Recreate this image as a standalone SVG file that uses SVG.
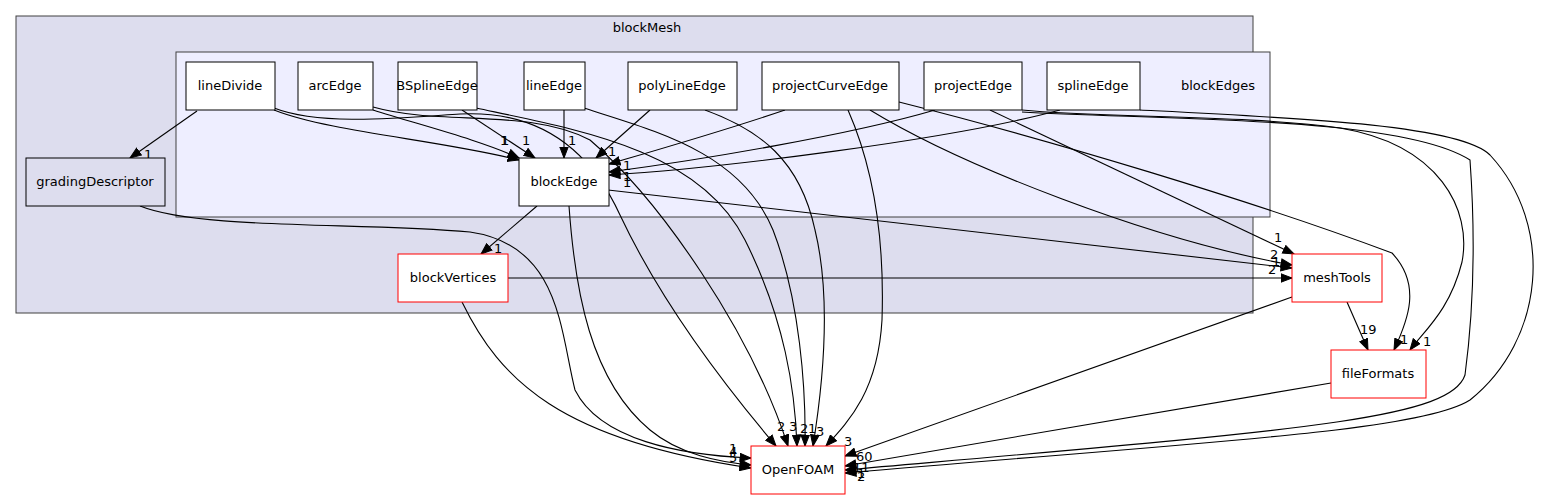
<svg xmlns="http://www.w3.org/2000/svg" width="1543" height="500" viewBox="0 0 1543 500">
<style>
text{font-family:"DejaVu Sans","Liberation Sans",sans-serif;font-size:13px;fill:#000}
.n{text-anchor:middle}
.c1{fill:#ddddee;stroke:#404040;stroke-width:1}
.c2{fill:#eeeeff;stroke:#404040;stroke-width:1}
.w{fill:#ffffff;stroke:#000;stroke-width:1}
.g{fill:#ddddee;stroke:#000;stroke-width:1}
.r{fill:#ffffff;stroke:#ff0000;stroke-width:1}
.e path{fill:none;stroke:#000;stroke-width:1.1;marker-end:url(#a)}
</style>
<defs>
<marker id="a" markerWidth="12" markerHeight="10" refX="11.5" refY="5" orient="auto" markerUnits="userSpaceOnUse"><path d="M0.5,0.8 L11.5,5 L0.5,9.2 z" fill="#000" stroke="#000" stroke-width="1"/></marker>
</defs>
<rect width="1543" height="500" fill="#ffffff"/>
<g id="clust_blockMesh"><rect class="c1" x="16" y="16" width="1237" height="297"/><text class="n" x="647" y="32">blockMesh</text></g>
<g id="clust_blockEdges"><rect class="c2" x="176" y="52" width="1094" height="165"/><text class="n" x="1218" y="90">blockEdges</text></g>

<g id="edges" class="e">
<path d="M197,111 L130,158"/>
<path d="M274,110 C330,132 440,140 519,160"/>
<path d="M373,110 C420,125 480,140 519,158"/>
<path d="M462,110 L535,158"/>
<path d="M564,110 L564,158"/>
<path d="M650,110 L596,158"/>
<path d="M785,110 C720,132 650,152 609,164"/>
<path d="M935,110 C850,135 700,160 609,172"/>
<path d="M1060,110 C950,140 720,168 609,175"/>
<path d="M274,108 C320,126 400,118 460,114 C540,110 590,150 620,215 C660,300 720,380 776,446"/>
<path d="M373,107 C440,126 530,108 590,140 C660,200 750,330 788,446"/>
<path d="M476,108 C580,130 700,150 745,240 C785,320 795,390 797,446"/>
<path d="M584,108 C650,130 740,150 773,230 C800,300 806,390 805,446"/>
<path d="M705,110 C760,130 800,160 815,230 C832,300 822,390 813,446"/>
<path d="M848,110 C870,160 885,230 882,320 C878,390 850,420 826,446"/>
<path d="M870,110 C960,165 1150,240 1292,265"/>
<path d="M899,102 C1050,140 1250,200 1392,253 C1422,285 1408,320 1394,350"/>
<path d="M990,110 L1294,254"/>
<path d="M1022,110 C1100,118 1250,115 1340,128 C1440,145 1472,210 1462,262 C1450,310 1425,330 1410,350"/>
<path d="M1022,112 C1150,120 1400,115 1470,160 C1475,230 1475,300 1465,375 C1450,420 1300,430 845,470"/>
<path d="M1140,110 C1300,118 1460,125 1490,155 C1555,225 1545,340 1470,400 C1420,432 1200,442 845,473"/>
<path d="M608,190 L1292,268"/>
<path d="M508,278 L1292,278"/>
<path d="M537,206 L481,254"/>
<path d="M569,206 C575,290 590,380 650,430 C680,455 720,462 751,465"/>
<path d="M462,302 C500,380 560,440 751,468"/>
<path d="M140,206 C200,230 360,222 470,232 C560,245 560,330 575,390 C600,440 680,455 751,458"/>
<path d="M1347,302 L1368,350"/>
<path d="M1292,297 L845,456"/>
<path d="M1331,383 L845,466"/>
</g>

<g id="edge_labels">
<text x="144" y="159">1</text>
<text x="500" y="145">1</text>
<text x="501" y="145">1</text>
<text x="522" y="145">1</text>
<text x="568" y="145">1</text>
<text x="608" y="156">1</text>
<text x="623" y="170">1</text>
<text x="623" y="181">1</text>
<text x="623" y="187">1</text>
<text x="777" y="431">2</text>
<text x="789" y="431">3</text>
<text x="800" y="433">2</text>
<text x="808" y="433">1</text>
<text x="816" y="436">3</text>
<text x="844" y="446">3</text>
<text x="729" y="453">1</text>
<text x="729" y="456">4</text>
<text x="729" y="462">5</text>
<text x="856" y="461">60</text>
<text x="853" y="472">11</text>
<text x="857" y="478">1</text>
<text x="857" y="481">2</text>
<text x="1274" y="242">1</text>
<text x="1270" y="259">2</text>
<text x="1272" y="266">1</text>
<text x="1268" y="274">2</text>
<text x="494" y="253">1</text>
<text x="1360" y="334">19</text>
<text x="1400" y="344">1</text>
<text x="1423" y="346">1</text>
</g>

<g id="node_lineDivide"><rect class="w" x="186" y="62" width="89" height="48"/><text class="n" x="230" y="90">lineDivide</text></g>
<g id="node_arcEdge"><rect class="w" x="298" y="62" width="75" height="48"/><text class="n" x="335" y="90">arcEdge</text></g>
<g id="node_BSplineEdge"><rect class="w" x="398" y="62" width="79" height="48"/><text class="n" x="437" y="90">BSplineEdge</text></g>
<g id="node_lineEdge"><rect class="w" x="524" y="62" width="61" height="48"/><text class="n" x="554" y="90">lineEdge</text></g>
<g id="node_polyLineEdge"><rect class="w" x="628" y="62" width="109" height="48"/><text class="n" x="682" y="90">polyLineEdge</text></g>
<g id="node_projectCurveEdge"><rect class="w" x="762" y="62" width="137" height="48"/><text class="n" x="830" y="90">projectCurveEdge</text></g>
<g id="node_projectEdge"><rect class="w" x="924" y="62" width="98" height="48"/><text class="n" x="973" y="90">projectEdge</text></g>
<g id="node_splineEdge"><rect class="w" x="1047" y="62" width="93" height="48"/><text class="n" x="1093" y="90">splineEdge</text></g>
<g id="node_blockEdge"><rect class="w" x="519" y="158" width="90" height="48"/><text class="n" x="564" y="186">blockEdge</text></g>
<g id="node_gradingDescriptor"><rect class="g" x="26" y="158" width="139" height="48"/><text class="n" x="95" y="186">gradingDescriptor</text></g>
<g id="node_blockVertices"><rect class="r" x="398" y="254" width="110" height="48"/><text class="n" x="453" y="282">blockVertices</text></g>
<g id="node_meshTools"><rect class="r" x="1292" y="254" width="90" height="48"/><text class="n" x="1337" y="282">meshTools</text></g>
<g id="node_fileFormats"><rect class="r" x="1331" y="350" width="95" height="48"/><text class="n" x="1378" y="378">fileFormats</text></g>
<g id="node_OpenFOAM"><rect class="r" x="751" y="446" width="94" height="48"/><text class="n" x="798" y="474">OpenFOAM</text></g>
</svg>
